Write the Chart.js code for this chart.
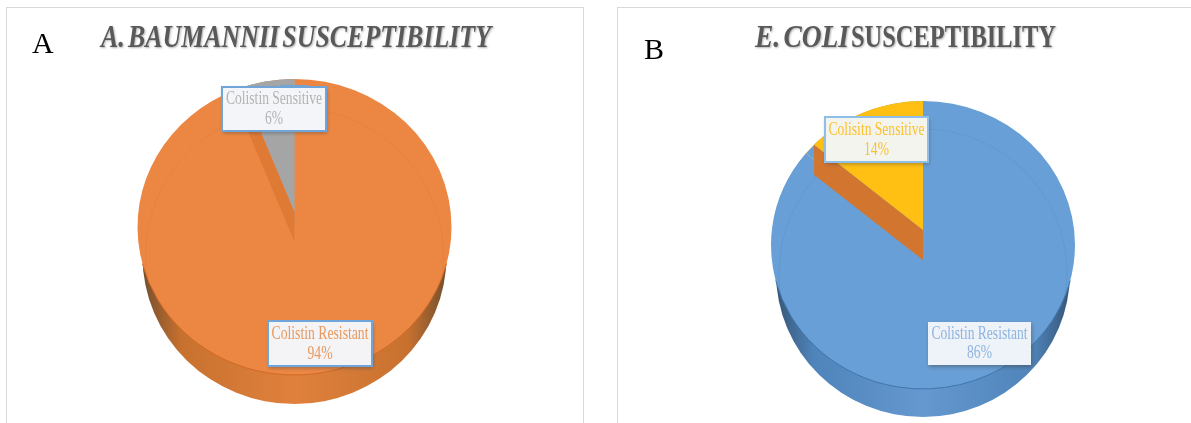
<!DOCTYPE html>
<html>
<head>
<meta charset="utf-8">
<title>Colistin susceptibility</title>
<script src="https://cdn.jsdelivr.net/npm/chart.js@4/dist/chart.umd.min.js"></script>
<style>
html, body { margin: 0; padding: 0; width: 1191px; height: 423px; overflow: hidden; background: #fff; }
.panel { position: absolute; top: 7px; height: 440px; border: 1px solid #d9d9d9; box-sizing: border-box; background: #fff; }
#panelA { left: 6px; width: 578px; }
#panelB { left: 617px; width: 600px; }
canvas { position: absolute; left: 0; top: 0; }
</style>
</head>
<body>
<div class="panel" id="panelA"><canvas id="chartA" width="576" height="416"></canvas></div>
<div class="panel" id="panelB"><canvas id="chartB" width="574" height="416"></canvas></div>

<script>
const baumanniiCategories = ['Colistin Resistant', 'Colistin Sensitive'];
const baumanniiValues = [94, 6];
const coliCategories = ['Colistin Resistant', 'Colisitn Sensitive'];
const coliValues = [86, 14];

const SERIF = '"Liberation Serif", "Times New Roman", serif';

// draws text squeezed horizontally to the given width
function fitText(ctx, text, x, y, width) {
    ctx.save();
    ctx.translate(x, y);
    ctx.scale(width / ctx.measureText(text).width, 1);
    ctx.fillText(text, 0, 0);
    ctx.restore();
}

function ellipsePath(ctx, x, y, rx, ry) {
    ctx.beginPath();
    ctx.ellipse(x, y, rx, ry, 0, 0, Math.PI * 2);
}

function wedgePath(ctx, arc, dy) {
    ctx.beginPath();
    ctx.moveTo(arc.x, arc.y + dy);
    ctx.arc(arc.x, arc.y + dy, arc.outerRadius * 1.3, arc.startAngle, arc.endAngle);
    ctx.closePath();
}

// where the slice's leading edge, started from a lifted apex, meets the rim
function rimPoint(arc, lift) {
    const cos = Math.cos(arc.startAngle);
    const sin = Math.sin(arc.startAngle);
    const b = -lift * sin;
    const t = -b + Math.sqrt(b * b - lift * lift + arc.outerRadius * arc.outerRadius);
    return { x: arc.x + t * cos, y: arc.y - lift + t * sin };
}

// the disc look: a side wall under the pie, the pie squashed to an ellipse,
// then the small slice lifted out of a notch
const discPlugin = {
    id: 'disc',
    beforeDatasetsDraw(chart, args, o) {
        const { ctx } = chart;
        const arc = chart.getDatasetMeta(0).data[0];
        const rx = arc.outerRadius;
        const ry = rx * o.squash;
        const baseY = arc.y + o.depth;

        const side = ctx.createLinearGradient(arc.x - rx, 0, arc.x + rx, 0);
        side.addColorStop(0, o.sideDark);
        side.addColorStop(0.14, o.sideMid);
        side.addColorStop(0.5, o.sideLight);
        side.addColorStop(0.86, o.sideMid);
        side.addColorStop(1, o.sideDark);
        ctx.fillStyle = side;
        ellipsePath(ctx, arc.x, baseY, rx - 5, ry);
        ctx.fill();

        ctx.save();
        ctx.translate(arc.x, arc.y);
        ctx.scale(1, o.squash);
        ctx.translate(-arc.x, -arc.y);
    },
    afterDatasetsDraw(chart, args, o) {
        const { ctx } = chart;
        const small = chart.getDatasetMeta(0).data[1];
        const color = chart.data.datasets[0].backgroundColor[1];
        ctx.restore();

        const rx = small.outerRadius;
        const ry = rx * o.squash;

        ctx.save();
        ellipsePath(ctx, small.x, small.y, rx, ry);
        ctx.clip();

        // faint outline of the base showing through the top face
        ctx.strokeStyle = o.ring;
        ctx.lineWidth = 1;
        ellipsePath(ctx, small.x, small.y + o.depth, rx - 8, ry);
        ctx.stroke();

        ctx.translate(small.x, small.y);
        ctx.scale(1, o.squash);
        ctx.translate(-small.x, -small.y);

        // notch wall, then the slice's own face over it; the main slice's
        // colour goes back first so the centre copy of the small slice is hidden
        const lift = o.notch / o.squash;
        const corner = rimPoint(small, lift);
        ctx.fillStyle = chart.data.datasets[0].backgroundColor[0];
        ctx.beginPath();
        ctx.moveTo(small.x, small.y);
        ctx.arc(small.x, small.y, rx, small.startAngle, small.endAngle);
        ctx.closePath();
        ctx.fill();

        ctx.fillStyle = o.wall;
        ctx.beginPath();
        ctx.moveTo(small.x, small.y - lift);
        ctx.lineTo(corner.x, corner.y);
        ctx.lineTo(corner.x, corner.y + lift * 2);
        ctx.lineTo(small.x, small.y + lift);
        ctx.closePath();
        ctx.fill();

        ctx.fillStyle = color;
        wedgePath(ctx, small, -lift);
        ctx.fill();
        ctx.restore();

        // rim where the top face meets the side wall
        ctx.strokeStyle = o.rim;
        ctx.lineWidth = 1;
        ctx.beginPath();
        ctx.ellipse(small.x, small.y, rx, ry, 0, 0.25, Math.PI - 0.25);
        ctx.stroke();
    }
};

const captionPlugin = {
    id: 'captions',
    afterDraw(chart, args, o) {
        const { ctx } = chart;
        const data = chart.data.datasets[0].data;
        ctx.save();
        ctx.textBaseline = 'middle';

        // panel letter
        ctx.fillStyle = '#000';
        ctx.textAlign = 'left';
        ctx.font = '30px ' + SERIF;
        ctx.fillText(o.letter, o.letterX, o.letterY);

        // title, made of runs so part of it can be italic
        ctx.fillStyle = '#595959';
        ctx.shadowColor = 'rgba(0,0,0,0.3)';
        ctx.shadowBlur = 2;
        ctx.shadowOffsetX = 1;
        ctx.shadowOffsetY = 1;
        ctx.wordSpacing = '-4px';
        o.title.forEach(run => {
            ctx.font = run.font + ' 32px ' + SERIF;
            fitText(ctx, run.text, run.x, o.titleY, run.width);
        });
        ctx.wordSpacing = '0px';

        // slice labels
        ctx.textAlign = 'center';
        o.boxes.forEach((b, i) => {
            if (b.tab) {
                ctx.shadowColor = 'transparent';
                ctx.fillStyle = b.border;
                ctx.fillRect(b.tab.x, b.y - 2, b.tab.w, 3);
            }
            ctx.shadowColor = 'rgba(60,60,60,0.45)';
            ctx.shadowBlur = 4;
            ctx.shadowOffsetX = 1;
            ctx.shadowOffsetY = 2;
            ctx.fillStyle = b.fill;
            ctx.fillRect(b.x, b.y, b.w, b.h);
            ctx.shadowColor = 'transparent';
            if (b.border) {
                ctx.strokeStyle = b.border;
                ctx.lineWidth = 2;
                ctx.strokeRect(b.x, b.y, b.w, b.h);
            }
            ctx.fillStyle = b.ink;
            ctx.font = '18px ' + SERIF;
            const mid = b.x + b.w / 2;
            const squeeze = b.textW / ctx.measureText(chart.data.labels[i]).width;
            fitText(ctx, chart.data.labels[i], mid, b.y + b.h * 0.29, b.textW);
            const pct = data[i] + '%';
            fitText(ctx, pct, mid, b.y + b.h * 0.73, ctx.measureText(pct).width * squeeze);
        });
        ctx.restore();
    }
};

function buildPie(id, labels, values, colors, geo, disc, captions) {
    return new Chart(document.getElementById(id), {
        type: 'pie',
        data: {
            labels: labels,
            datasets: [{ data: values, backgroundColor: colors, borderWidth: 0 }]
        },
        options: {
            responsive: false,
            animation: false,
            layout: {
                padding: {
                    left: geo.cx - geo.rx,
                    right: geo.w - geo.cx - geo.rx,
                    top: geo.cy - geo.rx,
                    bottom: geo.h - geo.cy - geo.rx
                }
            },
            plugins: {
                legend: { display: false },
                tooltip: { enabled: false },
                disc: disc,
                captions: captions
            }
        },
        plugins: [discPlugin, captionPlugin]
    });
}

// panel A sits at page offset (7, 8)
buildPie('chartA', baumanniiCategories, baumanniiValues, ['#EC8743', '#A5A5A5'],
    { cx: 287.5, cy: 219, rx: 157, w: 576, h: 416 },
    {
        squash: 0.943, depth: 29, notch: 15, wall: '#DF7A35', ring: '#E6823E', rim: '#CE6A26',
        sideDark: '#6A4B2E', sideMid: '#C8712F', sideLight: '#E0813D'
    },
    {
        letter: 'A', letterX: 25, letterY: 37, titleY: 31,
        title: [{ text: 'A. BAUMANNII SUSCEPTIBILITY', font: 'italic bold', x: 94, width: 390 }],
        boxes: [
            { x: 261, y: 313, w: 104, h: 45, fill: '#F4F4F6', border: '#6FA5D8', ink: '#E8995F', textW: 97 },
            { x: 215, y: 79, w: 104, h: 44, fill: '#F4F5F8', border: '#6FA5D8', ink: '#B4B4B4', textW: 96, tab: { x: 274, w: 27 } }
        ]
    });

// panel B sits at page offset (618, 8)
buildPie('chartB', coliCategories, coliValues, ['#689FD6', '#FFC013'],
    { cx: 305, cy: 237, rx: 152, w: 574, h: 416 },
    {
        squash: 0.947, depth: 28, notch: 15, wall: '#D2752F', ring: '#6199D0', rim: '#3F76AC',
        sideDark: '#34506E', sideMid: '#4F84BA', sideLight: '#6498CE'
    },
    {
        letter: 'B', letterX: 26, letterY: 43, titleY: 31,
        title: [
            { text: 'E. COLI', font: 'italic bold', x: 137, width: 94 },
            { text: 'SUSCEPTIBILITY', font: 'bold', x: 233, width: 205 }
        ],
        boxes: [
            { x: 310, y: 314, w: 103, h: 43, fill: '#EEF3F9', ink: '#8FB3DE', textW: 96 },
            { x: 207, y: 109, w: 103, h: 45, fill: '#F4F4EE', border: '#8FBFE8', ink: '#FBC22E', textW: 96 }
        ]
    });
</script>
</body>
</html>
